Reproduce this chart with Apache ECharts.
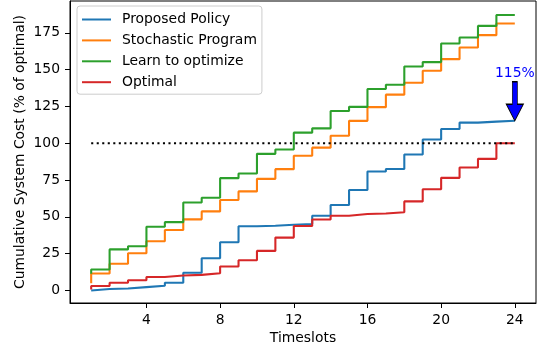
<!DOCTYPE html>
<html>
<head>
<meta charset="utf-8">
<script src="https://cdn.jsdelivr.net/npm/echarts@6/dist/echarts.min.js"></script>
<style>
  html, body { margin: 0; padding: 0; background: #fff; }
  #chart { width: 539px; height: 352px; }
</style>
</head>
<body>
<div id="chart"></div>
<script>
// timeslots 1..24
const timeslots = [1, 2, 3, 4, 5, 6, 7, 8, 9, 10, 11, 12, 13, 14, 15, 16, 17, 18, 19, 20, 21, 22, 23, 24];

const proposedPolicy = [0, 1.0, 1.4, 2.3, 3.2, 5.2, 12.0, 21.9, 32.7, 43.6, 44.0, 44.7, 45.1, 50.8, 58.0, 68.2, 80.8, 82.5, 92.4, 102.5, 109.7, 114.0, 114.7, 115.3];
const stochasticProgram = [4.9, 11.5, 18.1, 25.3, 33.4, 41.1, 48.3, 53.7, 61.4, 67.3, 75.8, 82.4, 91.5, 97.0, 105.1, 115.2, 124.5, 133.0, 141.1, 149.2, 157.1, 165.0, 173.4, 181.3];
const learnToOptimize = [11.3, 14.3, 27.9, 30.0, 43.3, 46.4, 59.8, 63.0, 76.3, 79.5, 92.8, 95.7, 107.2, 110.1, 121.9, 124.7, 136.8, 139.7, 152.1, 155.1, 167.7, 171.8, 179.7, 187.1];
const optimal = [0.7, 3.1, 5.2, 7.0, 9.2, 10.2, 10.6, 11.7, 16.3, 20.5, 26.9, 35.9, 43.8, 48.2, 50.7, 52.0, 52.3, 53.1, 60.5, 68.7, 76.5, 83.5, 89.4, 100.0];

const seriesNames = ["Proposed Policy", "Stochastic Program", "Learn to optimize", "Optimal"];
const seriesColors = ["#1f77b4", "#ff7f0e", "#2ca02c", "#d62728"];

const refLevel = 100;
const xTicks = [4, 8, 12, 16, 20, 24];
const yTicks = [0, 25, 50, 75, 100, 125, 150, 175];

const FONT = "DejaVu Sans";
const FS = 13.9;
const LW = 2.08;

const chart = echarts.init(document.getElementById("chart"), null, { renderer: "canvas" });

const pairs = (ys) => timeslots.map((x, i) => [x, ys[i]]);
const lastBlue = proposedPolicy[proposedPolicy.length - 1];

const stepSeries = [proposedPolicy, stochasticProgram, learnToOptimize, optimal].map((ys, i) => ({
  name: seriesNames[i],
  type: "line",
  step: "start",
  data: pairs(ys),
  showSymbol: false,
  symbol: "none",
  color: seriesColors[i],
  lineStyle: { width: LW, color: seriesColors[i] },
  z: 2 + i * 0.01,
}));

stepSeries.push({
  name: "ref",
  type: "line",
  data: [[timeslots[0], refLevel], [timeslots[timeslots.length - 1], refLevel]],
  showSymbol: false,
  symbol: "none",
  lineStyle: { width: LW, color: "#000", type: [2.08, 3.44] },
  z: 3,
  markPoint: {
    symbol: "path://M6,0 L11,0 L11,22 L17,22 L8.5,38 L0,22 L6,22 Z",
    symbolSize: [17, 39],
    symbolOffset: [0, -19.5],
    itemStyle: { color: "#0000ff", borderColor: "#000", borderWidth: 1 },
    label: {
      show: true,
      position: "top",
      distance: 1,
      color: "#0000ff",
      fontFamily: FONT,
      fontSize: FS,
      formatter: Math.round(lastBlue) + "%",
    },
    data: [{ coord: [timeslots[timeslots.length - 1], lastBlue] }],
    z: 10,
  },
});

chart.setOption({
  animation: false,
  textStyle: { fontFamily: FONT },
  grid: {
    left: 70, right: 3, top: 1, bottom: 49,
    show: true, borderColor: "#000", borderWidth: 1, backgroundColor: "transparent",
  },
  legend: {
    data: seriesNames,
    orient: "vertical",
    left: 77,
    top: 6,
    padding: [5.5, 5, 4, 5],
    itemGap: 4.9,
    itemWidth: 29,
    itemHeight: 2,
    icon: "rect",
    backgroundColor: "rgba(255,255,255,0.8)",
    borderColor: "#cccccc",
    borderWidth: 1,
    borderRadius: 3,
    textStyle: { fontFamily: FONT, fontSize: FS, color: "#000", lineHeight: 16, padding: [0, 0, 0, 6] },
  },
  xAxis: {
    type: "value",
    min: -0.15,
    max: 25.15,
    name: "Timeslots",
    nameLocation: "middle",
    nameGap: 28.5,
    nameMoveOverlap: false,
    nameTextStyle: { fontFamily: FONT, fontSize: FS, color: "#000" },
    axisLine: { show: true, onZero: false, lineStyle: { color: "#000", width: 1 } },
    axisTick: { show: true, length: 5, lineStyle: { color: "#000", width: 1 }, customValues: xTicks },
    axisLabel: { color: "#000", fontFamily: FONT, fontSize: FS, margin: 10, customValues: xTicks },
    splitLine: { show: false },
  },
  yAxis: {
    type: "value",
    min: -8.5,
    max: 196.6,
    name: "Cumulative System Cost (% of optimal)",
    nameLocation: "middle",
    nameGap: 43,
    nameMoveOverlap: false,
    nameTextStyle: { fontFamily: FONT, fontSize: FS, color: "#000" },
    axisLine: { show: true, onZero: false, lineStyle: { color: "#000", width: 1 } },
    axisTick: { show: true, length: 5, lineStyle: { color: "#000", width: 1 }, customValues: yTicks },
    axisLabel: { color: "#000", fontFamily: FONT, fontSize: FS, margin: 10, customValues: yTicks },
    splitLine: { show: false },
  },
  series: stepSeries,
});
</script>
</body>
</html>
